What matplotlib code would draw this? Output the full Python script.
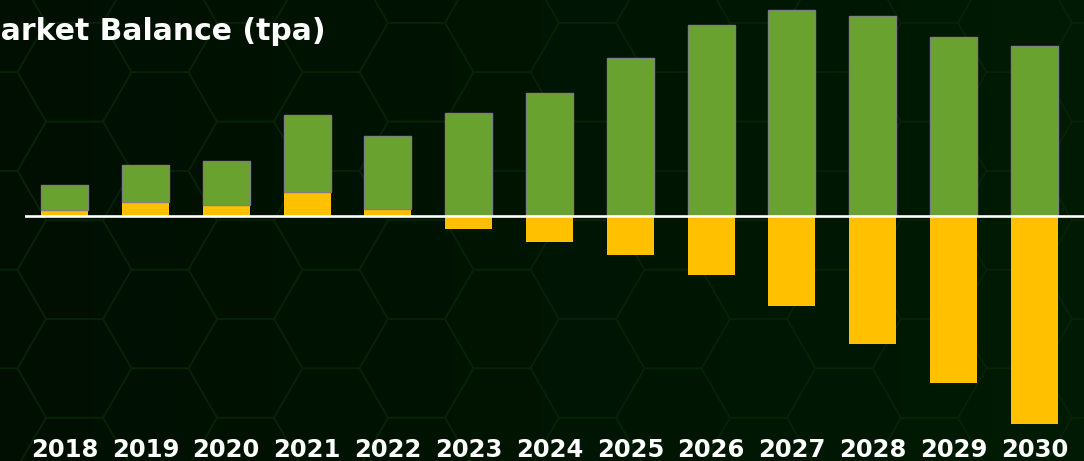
import numpy as np
import matplotlib
matplotlib.use("Agg")
import matplotlib.pyplot as plt
from matplotlib.patches import RegularPolygon
from matplotlib.collections import PatchCollection

# ---- data (kt) ----
years = ["2018", "2019", "2020", "2021", "2022", "2023", "2024",
         "2025", "2026", "2027", "2028", "2029", "2030"]
balance = [6, 14, 11, 24, 7, -13, -26, -39, -59, -90, -128, -167, -208]
green_part = [25, 37, 44, 77, 73, 103, 123, 158, 191, 206, 200, 179, 170]
title = "Market Balance (tpa)"

W, H = 1084, 461
fig = plt.figure(figsize=(W / 100, H / 100), dpi=100)

# background gradient + faint hexagon pattern
bg = fig.add_axes([0, 0, 1, 1], zorder=-10)
c_left = np.array([0x00, 0x0f, 0x02]) / 255
c_right = np.array([0x01, 0x1b, 0x04]) / 255
t = np.linspace(0, 1, 256)[None, :, None]
grad = c_left + (c_right - c_left) * t
bg.imshow(grad, extent=[0, W, H, 0], aspect="auto")
s = 57.0
x0, y0 = 673.0, 319.0
hexes = []
for i in range(-14, 14):
    for j in range(-5, 6):
        cx = x0 + 1.5 * s * i
        cy = y0 + np.sqrt(3) * s * (j + 0.5 * (i % 2))
        hexes.append(RegularPolygon((cx, cy), 6, radius=s, orientation=np.pi / 6))
pc = PatchCollection(hexes, facecolor="none", edgecolor="#072207", linewidth=1.2)
bg.add_collection(pc)
bg.set_xlim(0, W)
bg.set_ylim(H, 0)
bg.axis("off")

# main axes: 1 data unit == 1 px vertically
ax_left, ax_bottom_px = 25, 430
ax = fig.add_axes([ax_left / W, (H - ax_bottom_px) / H, 1 - ax_left / W, ax_bottom_px / H])
ax.patch.set_alpha(0)
x = np.arange(len(years))
step = (1034.5 - 64.5) / 12
ax.set_xlim((ax_left - 64.5) / step, (W - 64.5) / step)
ax.set_ylim(-(ax_bottom_px - 216), 216)

bw = 47 / step
bal = np.array(balance, dtype=float)
grn = np.array(green_part, dtype=float)
ax.bar(x, bal, width=bw, color="#ffc000", edgecolor="none", zorder=2)
ax.bar(x, grn, bottom=np.maximum(bal, 0), width=bw, color="#6aa22f",
       edgecolor="#7f7f7f", linewidth=1.0, zorder=3)
ax.axhline(0, color="white", linewidth=1.9, zorder=4)

ax.set_xticks(x)
ax.set_xticklabels(years, fontsize=17.5, fontweight="bold", color="white",
                   family="DejaVu Sans")
ax.tick_params(axis="x", length=0, pad=5.5)
ax.set_yticks([])
for sp in ax.spines.values():
    sp.set_visible(False)

# title: the leading "M" is cropped off the left edge, as in the reference
tfont = dict(fontsize=21.5, fontweight="bold", color="white", family="DejaVu Sans")
renderer = fig.canvas.get_renderer()
probe = fig.text(0, 0, "M", **tfont)
probe2 = fig.text(0, 0, "Ma", **tfont)
wa = probe2.get_window_extent(renderer).width - probe.get_window_extent(renderer).width
w_m = probe2.get_window_extent(renderer).width - wa
probe.remove()
probe2.remove()
fig.text((-w_m + 1) / W, 1 - 32 / H, title, ha="left", va="center", **tfont)

fig.savefig("out.png", dpi=100, facecolor="#000f02")
